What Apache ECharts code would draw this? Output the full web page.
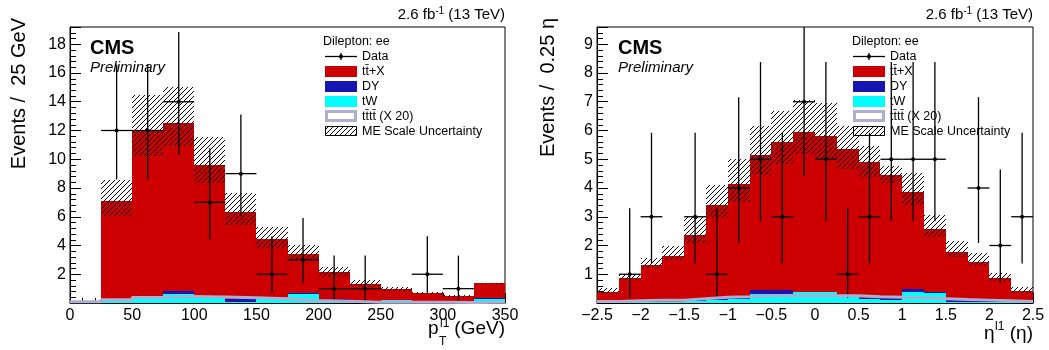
<!DOCTYPE html>
<html>
<head>
<meta charset="utf-8">
<script src="https://cdn.jsdelivr.net/npm/echarts@6/dist/echarts.min.js"></script>
<style>
  html, body { margin: 0; padding: 0; background: #fff; }
  #chart { width: 1049px; height: 350px; }
</style>
</head>
<body>
<div id="chart"></div>
<script>
// ---- leading lepton pT, 25 GeV bins ----
const ptBinLo = [0, 25, 50, 75, 100, 125, 150, 175, 200, 225, 250, 275, 300, 325];
const ptTW = [0, 0.12, 0.3, 0.63, 0.4, 0.1, 0.25, 0.66, 0.2, 0.04, 0.2, 0.08, 0.08, 0.3];
const ptDY = [0, 0.03, 0.03, 0.23, 0.09, 0.2, 0.12, 0.02, 0.05, 0.02, 0.02, 0.02, 0.02, 0.07];
const ptTtX = [0, 6.98, 11.72, 11.69, 9.08, 6.06, 4.09, 2.73, 1.89, 1.26, 0.76, 0.58, 0.41, 1.0];
const ptTttt = [0.08, 0.22, 0.38, 0.45, 0.42, 0.36, 0.3, 0.18, 0.12, 0.06, 0.06, 0.05, 0.04, 0.06];
const ptBandUp = [0, 8.57, 14.45, 15.03, 11.52, 7.64, 5.27, 4.04, 2.49, 1.6, 1.09, 0.75, 0.56, 1.42];
const ptBandDn = [0, 6.08, 10.2, 10.9, 8.34, 5.44, 3.85, 3.0, 1.83, 1.09, 0.86, 0.6, 0.45, 1.3];
const ptData = [null, 12, 12, 14, 7, 9, 2, 3, 1, 1, null, 2, 1, null];
const ptErrLo = [null, 3.41, 3.41, 3.70, 2.58, 2.94, 1.29, 1.63, 0.83, 0.83, null, 1.29, 0.83, null];
const ptErrHi = [null, 4.58, 4.58, 4.86, 3.77, 4.11, 2.64, 2.92, 2.30, 2.30, null, 2.64, 2.30, null];
const ptXTicks = { min: 0, max: 350, interval: 50 };
const ptYTicks = { min: 0, max: 19.2, interval: 2 };

// ---- leading lepton eta, 0.25 bins ----
const etaBinLo = [-2.5, -2.25, -2, -1.75, -1.5, -1.25, -1, -0.75, -0.5, -0.25, 0, 0.25, 0.5, 0.75, 1, 1.25, 1.5, 1.75, 2, 2.25];
const etaTW = [0.02, 0.05, 0.03, 0.03, 0.08, 0.1, 0.15, 0.33, 0.3, 0.38, 0.38, 0.2, 0.15, 0.12, 0.4, 0.35, 0.05, 0.05, 0.05, 0.02];
const etaDY = [0.02, 0.04, 0.02, 0.02, 0.03, 0.03, 0.05, 0.12, 0.15, 0.02, 0.02, 0.03, 0.03, 0.1, 0.1, 0.02, 0.05, 0.02, 0.02, 0.01];
const etaTtX = [0.35, 0.77, 1.27, 1.59, 2.24, 3.28, 3.95, 4.71, 5.14, 5.55, 5.4, 5.12, 4.71, 4.24, 3.36, 2.2, 1.69, 1.37, 0.81, 0.4];
const etaTttt = [0.05, 0.08, 0.1, 0.1, 0.15, 0.2, 0.22, 0.25, 0.25, 0.25, 0.25, 0.25, 0.22, 0.2, 0.18, 0.15, 0.12, 0.1, 0.08, 0.05];
const etaBandUp = [0.51, 1.0, 1.56, 1.99, 3.0, 4.11, 5.02, 6.14, 6.69, 7.07, 6.96, 6.14, 5.45, 4.75, 4.52, 3.07, 2.14, 1.73, 1.03, 0.57];
const etaBandDn = [0.33, 0.8, 1.22, 1.5, 2.1, 2.95, 3.53, 4.45, 4.85, 5.2, 5.0, 4.65, 4.4, 4.17, 3.41, 2.31, 1.6, 1.3, 0.75, 0.35];
const etaData = [null, 1, 3, null, 3, 1, 4, 5, 3, 7, 5, 1, 3, 5, 5, 5, null, 4, 2, 3];
const etaErrLo = [null, 0.83, 1.63, null, 1.63, 0.83, 1.91, 2.16, 1.63, 2.58, 2.16, 0.83, 1.63, 2.16, 2.16, 2.16, null, 1.91, 1.29, 1.63];
const etaErrHi = [null, 2.30, 2.92, null, 2.92, 2.30, 3.16, 3.38, 2.92, 3.77, 3.38, 2.30, 2.92, 3.38, 3.38, 3.38, null, 3.16, 2.64, 2.92];
const etaXTicks = { min: -2.5, max: 2.5, interval: 0.5 };
const etaYTicks = { min: 0, max: 9.6, interval: 1 };

const FONT = "'Liberation Sans', Arial, Helvetica, sans-serif";
const colTtX = '#cc0000';
const colDY = '#1616b0';
const colTW = '#00ffff';
const colTttt = '#aeaed2';

function makeHatch() {
  const s = 5;
  const c = document.createElement('canvas');
  c.width = s;
  c.height = s;
  const g = c.getContext('2d');
  g.strokeStyle = '#000';
  g.lineWidth = 1;
  g.beginPath();
  g.moveTo(0, s); g.lineTo(s, 0);
  g.moveTo(-1, 1); g.lineTo(1, -1);
  g.moveTo(s - 1, s + 1); g.lineTo(s + 1, s - 1);
  g.stroke();
  return { image: c, repeat: 'repeat' };
}
const hatch = makeHatch();

// rectangle [xlo, xhi, ylo, yhi] through the axis scales
function rectRender(fill) {
  return (params, api) => {
    if (api.value(3) - api.value(2) <= 0) return null;
    const p0 = api.coord([api.value(0), api.value(2)]);
    const p1 = api.coord([api.value(1), api.value(3)]);
    const x0 = Math.round(p0[0]), x1 = Math.round(p1[0]);
    const y0 = Math.round(p0[1]), y1 = Math.round(p1[1]);
    return { type: 'rect', shape: { x: x0, y: y1, width: x1 - x0, height: y0 - y1 }, style: { fill: fill } };
  };
}

function dataRender(params, api) {
  const x = api.value(0), y = api.value(1), hw = api.value(2), lo = api.value(3), hi = api.value(4);
  const c = api.coord([x, y]);
  const l = api.coord([x - hw, y]);
  const r = api.coord([x + hw, y]);
  const b = api.coord([x, y - lo]);
  const t = api.coord([x, y + hi]);
  const top = Math.max(t[1], params.coordSys.y);
  const st = { stroke: '#000', lineWidth: 1.3 };
  return {
    type: 'group',
    children: [
      { type: 'line', shape: { x1: l[0], y1: c[1], x2: r[0], y2: c[1] }, style: st },
      { type: 'line', shape: { x1: c[0], y1: b[1], x2: c[0], y2: top }, style: st },
      { type: 'circle', shape: { cx: c[0], cy: c[1], r: 2 }, style: { fill: '#000' } }
    ]
  };
}

function panelSeries(idx, binLo, w, tW, DY, ttX, tttt, bandUp, bandDn, data, errLo, errHi) {
  const base1 = tW.map(() => 0);
  const base2 = tW.slice();
  const base3 = tW.map((v, i) => v + DY[i]);
  const items = (vals, base) => binLo.map((lo, i) => [lo, lo + w, base[i], base[i] + vals[i]]);
  const common = { type: 'custom', xAxisIndex: idx, yAxisIndex: idx, silent: true };
  const last = binLo.length - 1;
  return [
    Object.assign({ name: 'ttX', renderItem: rectRender(colTtX), data: items(ttX, base3) }, common),
    Object.assign({ name: 'DY', renderItem: rectRender(colDY), data: items(DY, base2) }, common),
    Object.assign({ name: 'tW', renderItem: rectRender(colTW), data: items(tW, base1) }, common),
    Object.assign({ name: 'band', renderItem: rectRender(hatch),
      data: binLo.map((lo, i) => [lo, lo + w, bandDn[i], bandUp[i]]) }, common),
    {
      type: 'line', name: 'tttt', xAxisIndex: idx, yAxisIndex: idx, step: 'end',
      showSymbol: false, silent: true,
      lineStyle: { color: colTttt, width: 3 },
      data: binLo.map((lo, i) => [lo, tttt[i]]).concat([[binLo[last] + w, tttt[last]]])
    },
    Object.assign({ name: 'Data', renderItem: dataRender,
      data: binLo.map((lo, i) => data[i] == null ? null : [lo + w / 2, data[i], w / 2, errLo[i], errHi[i]])
        .filter((d) => d !== null) }, common)
  ];
}

function xAxisOpt(idx, ticks, fmt) {
  return {
    type: 'value', gridIndex: idx, min: ticks.min, max: ticks.max, interval: ticks.interval,
    axisLine: { show: true, onZero: false, lineStyle: { color: '#000', width: 1 } },
    axisTick: { show: true, inside: true, length: 10, lineStyle: { color: '#000' } },
    minorTick: { show: true, splitNumber: 5, length: 5, lineStyle: { color: '#000' } },
    axisLabel: { color: '#000', fontSize: 16, fontFamily: FONT, margin: 5, formatter: fmt,
      showMinLabel: true, showMaxLabel: true, hideOverlap: false },
    splitLine: { show: false }
  };
}

function yAxisOpt(idx, ticks) {
  return {
    type: 'value', gridIndex: idx, min: ticks.min, max: ticks.max, interval: ticks.interval,
    axisLine: { show: true, onZero: false, lineStyle: { color: '#000', width: 1 } },
    axisTick: { show: true, inside: true, length: 11, lineStyle: { color: '#000' } },
    minorTick: { show: true, splitNumber: 5, length: 6, lineStyle: { color: '#000' } },
    axisLabel: { color: '#000', fontSize: 16, fontFamily: FONT, margin: 4,
      showMaxLabel: false, formatter: (v) => (v === 0 ? '' : String(v)) },
    splitLine: { show: false }
  };
}

function txt(x, y, text, font, align, extra) {
  return Object.assign({
    type: 'text', x: x, y: y, silent: true,
    style: { text: text, font: font, fill: '#000', align: align || 'left', verticalAlign: 'middle' }
  }, extra || {});
}

function lumiText(xRight) {
  return {
    type: 'text', x: xRight, y: 15, silent: true,
    style: {
      text: '{a|2.6 fb}{s|-1}{a| (13 TeV)}', align: 'right', verticalAlign: 'middle',
      rich: {
        a: { fontSize: 15, fontFamily: FONT, lineHeight: 18, fill: '#000' },
        s: { fontSize: 10, fontFamily: FONT, lineHeight: 10, verticalAlign: 'top', fill: '#000' }
      }
    }
  };
}

function legendEls(bx, hx) {
  const tx = bx + 37;
  const f = '12.5px ' + FONT;
  return [
    txt(hx, 42, 'Dilepton: ee', f),
    { type: 'line', shape: { x1: bx, y1: 56.5, x2: bx + 32, y2: 56.5 }, style: { stroke: '#000', lineWidth: 1.3 } },
    { type: 'line', shape: { x1: bx + 16, y1: 53, x2: bx + 16, y2: 60 }, style: { stroke: '#000', lineWidth: 1.3 } },
    { type: 'circle', shape: { cx: bx + 16, cy: 56.5, r: 2 }, style: { fill: '#000' } },
    { type: 'rect', shape: { x: bx, y: 66, width: 32, height: 11 }, style: { fill: colTtX } },
    { type: 'rect', shape: { x: bx, y: 81, width: 32, height: 11 }, style: { fill: colDY } },
    { type: 'rect', shape: { x: bx, y: 96, width: 32, height: 11 }, style: { fill: colTW } },
    { type: 'rect', shape: { x: bx + 1.5, y: 111.5, width: 29, height: 9 }, style: { fill: '#fff', stroke: colTttt, lineWidth: 3 } },
    { type: 'rect', shape: { x: bx + 0.5, y: 126.5, width: 31, height: 9 }, style: { fill: hatch, stroke: '#000', lineWidth: 1 } },
    txt(tx, 56.5, 'Data', f),
    txt(tx, 71.5, 'tt\u0304+X', f),
    txt(tx, 86.5, 'DY', f),
    txt(tx, 101.5, 'tW', f),
    txt(tx, 116.5, 'tt\u0304tt\u0304 (X 20)', f),
    txt(tx, 131.5, 'ME Scale Uncertainty', f)
  ];
}

const graphics = [
  // left panel
  txt(19, 18, 'Events /  25 GeV', '20px ' + FONT, 'right', { rotation: Math.PI / 2 }),
  lumiText(505),
  txt(90, 48, 'CMS', 'bold 20px ' + FONT),
  txt(90, 68, 'Preliminary', 'italic 15px ' + FONT),
  txt(428, 329, 'p', '19px ' + FONT),
  txt(440, 324, 'l1', '12px ' + FONT),
  txt(439, 342, 'T', '12px ' + FONT),
  txt(505, 329, '(GeV)', '19px ' + FONT, 'right'),
  // right panel
  txt(548, 18, 'Events /  0.25 \u03b7', '20px ' + FONT, 'right', { rotation: Math.PI / 2 }),
  lumiText(1033),
  txt(618, 48, 'CMS', 'bold 20px ' + FONT),
  txt(618, 68, 'Preliminary', 'italic 15px ' + FONT),
  txt(984, 334, '\u03b7', '19px ' + FONT),
  txt(995, 327, 'l1', '12px ' + FONT),
  txt(1033, 334, '(\u03b7)', '19px ' + FONT, 'right')
].concat(legendEls(325, 323), legendEls(853, 852));

const chart = echarts.init(document.getElementById('chart'), null, { renderer: 'canvas' });
chart.setOption({
  animation: false,
  backgroundColor: '#fff',
  grid: [
    { left: 70, top: 27, width: 435, height: 276, show: true, borderColor: '#000', borderWidth: 1, outerBoundsMode: 'none' },
    { left: 597, top: 27, width: 436, height: 276, show: true, borderColor: '#000', borderWidth: 1, outerBoundsMode: 'none' }
  ],
  xAxis: [
    xAxisOpt(0, ptXTicks, (v) => String(v)),
    xAxisOpt(1, etaXTicks, (v) => String(v).replace('-', '\u2212'))
  ],
  yAxis: [yAxisOpt(0, ptYTicks), yAxisOpt(1, etaYTicks)],
  series: panelSeries(0, ptBinLo, 25, ptTW, ptDY, ptTtX, ptTttt, ptBandUp, ptBandDn, ptData, ptErrLo, ptErrHi)
    .concat(panelSeries(1, etaBinLo, 0.25, etaTW, etaDY, etaTtX, etaTttt, etaBandUp, etaBandDn, etaData, etaErrLo, etaErrHi)),
  graphic: graphics
});
</script>
</body>
</html>
